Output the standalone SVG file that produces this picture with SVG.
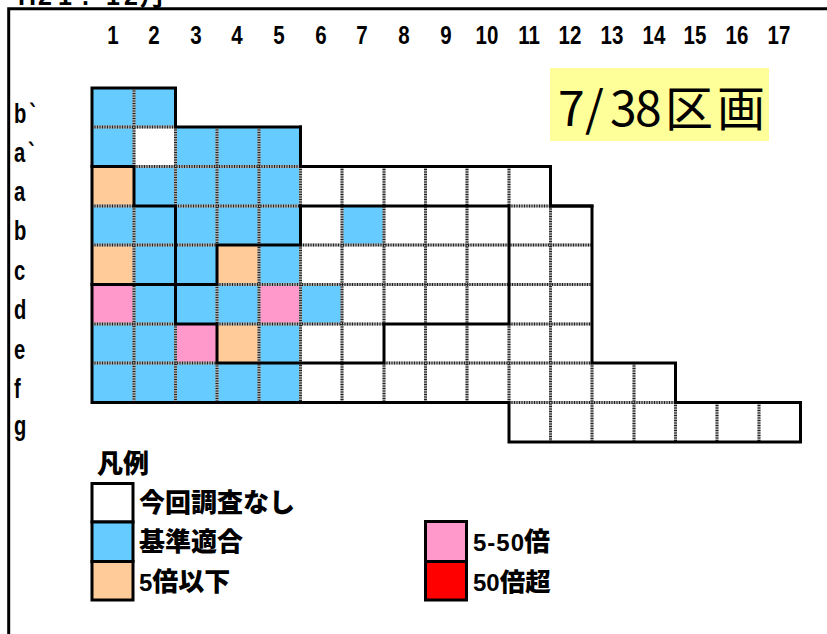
<svg xmlns="http://www.w3.org/2000/svg" xmlns:xlink="http://www.w3.org/1999/xlink" width="827" height="634" viewBox="0 0 827 634">
<style>
text{font-family:"Liberation Sans","Noto Sans CJK JP",sans-serif;font-weight:bold;fill:#000}
.h{font-size:25px;text-anchor:middle}
.l{font-size:28px}
.j{font-family:"Noto Sans CJK JP",sans-serif;font-weight:900;font-size:26px}
.d{font-family:"Liberation Sans",sans-serif;font-weight:bold;font-size:24px}
.b{fill:#66ccff}.o{fill:#ffcc99}.p{fill:#ff99cc}.r{fill:#ff0000}.w{fill:#fff}
.g{stroke:#a8a8a8;stroke-width:3;fill:none}
.g2{stroke:#222;stroke-width:3;stroke-dasharray:1 1.500;fill:none}
.k{stroke:#000;stroke-width:3;fill:none;stroke-linecap:square}
.s{stroke:#000;stroke-width:3}
</style>
<defs>
<path id="grid" d="M92 127H175.500M134 166.500H300.500M92 206H134M175.500 206H300.500M92 245H217M300.500 245H592M217 284.500H592M92 324H175.500M217 324H384M509 324H592M92 363H217M384 363H592M509 402.500H675.500M509 206H550.500M134 88V166.500M175.500 127V206M217 127V245M259 127V402.500M134 206V402.500M175.500 324V402.500M217 284.500V324M217 363V402.500M300.500 166.500V206M300.500 245V402.500M342 166.500V402.500M384 166.500V324M384 363V402.500M425.500 166.500V402.500M467 166.500V402.500M509 166.500V206M509 324V402.500M550.500 206V442M592 363V442M634 363V442M675.500 402.500V442M717 402.500V442M759 402.500V442"/>
</defs>
<rect width="827" height="634" fill="#fff"/>
<g id="title"><text x="18 38 58 82 106 124 140" y="5" style="font-size:25px">H21.12月</text></g>
<path id="frame" d="M827 8.700H8.700V634" fill="none" stroke="#000" stroke-width="3"/>
<g id="col-labels">
<text class="h" transform="translate(113 43.500) scale(.82 1)">1</text>
<text class="h" transform="translate(154 43.500) scale(.82 1)">2</text>
<text class="h" transform="translate(196 43.500) scale(.82 1)">3</text>
<text class="h" transform="translate(237 43.500) scale(.82 1)">4</text>
<text class="h" transform="translate(279 43.500) scale(.82 1)">5</text>
<text class="h" transform="translate(321 43.500) scale(.82 1)">6</text>
<text class="h" transform="translate(362 43.500) scale(.82 1)">7</text>
<text class="h" transform="translate(404 43.500) scale(.82 1)">8</text>
<text class="h" transform="translate(446 43.500) scale(.82 1)">9</text>
<text class="h" transform="translate(487 43.500) scale(.82 1)">10</text>
<text class="h" transform="translate(529 43.500) scale(.82 1)">11</text>
<text class="h" transform="translate(570 43.500) scale(.82 1)">12</text>
<text class="h" transform="translate(612 43.500) scale(.82 1)">13</text>
<text class="h" transform="translate(654 43.500) scale(.82 1)">14</text>
<text class="h" transform="translate(695 43.500) scale(.82 1)">15</text>
<text class="h" transform="translate(737 43.500) scale(.82 1)">16</text>
<text class="h" transform="translate(779 43.500) scale(.82 1)">17</text>
</g>
<g id="row-labels">
<text class="l" transform="translate(14 123) scale(.72 1)">b<tspan dx="4">`</tspan></text>
<text class="l" transform="translate(14 161.500) scale(.72 1)">a<tspan dx="4">`</tspan></text>
<text class="l" transform="translate(14 201) scale(.72 1)">a</text>
<text class="l" transform="translate(14 240) scale(.72 1)">b</text>
<text class="l" transform="translate(14 280) scale(.72 1)">c</text>
<text class="l" transform="translate(14 319) scale(.72 1)">d</text>
<text class="l" transform="translate(14 358.500) scale(.72 1)">e</text>
<text class="l" transform="translate(14 398) scale(.72 1)">f</text>
<text class="l" transform="translate(14 435) scale(.72 1)">g</text>
</g>
<g id="cells">
<rect class="b" x="92" y="88" width="84" height="39"/>
<rect class="b" x="92" y="127" width="42" height="39.500"/>
<rect class="b" x="175.500" y="127" width="125" height="79"/>
<rect class="o" x="92" y="166.500" width="42" height="39.500"/>
<rect class="b" x="134" y="166.500" width="42" height="39.500"/>
<rect class="b" x="92" y="206" width="208.500" height="196.500"/>
<rect class="b" x="342" y="206" width="42" height="39"/>
<rect class="o" x="92" y="245" width="42" height="39.500"/>
<rect class="o" x="217" y="245" width="42" height="39.500"/>
<rect class="p" x="92" y="284.500" width="42" height="39.500"/>
<rect class="p" x="259" y="284.500" width="41.500" height="39.500"/>
<rect class="b" x="300.500" y="284.500" width="41.500" height="39.500"/>
<rect class="p" x="175.500" y="324" width="41.500" height="39"/>
<rect class="o" x="217" y="324" width="42" height="39"/>
</g>
<g id="connectors">
<use href="#grid" class="g"/>
<use href="#grid" class="g2"/>
<path class="k" d="M92 88H175.500V127H300.500V166.500H550.500V206H592V363H675.500V402.500H800.500V442H509V402.500H92V88"/>
<path class="k" d="M92 166.500H134V206H175.500V324H217V363H384V324H509V206H300.500M550.500 206H592M92 284.500H217V245H300.500M300.500 127V166.500M300.500 206V245"/>
</g>
<g id="badge">
<rect x="550" y="68" width="219" height="73" fill="#ffff99"/>
<text x="558 585 610 635 665 717" y="126" style="font-family:'Noto Sans CJK JP',sans-serif;font-weight:400;font-size:48px">7/38区画</text>
</g>
<g id="legend">
<text class="j" x="97" y="473">凡例</text>
<rect class="w s" x="92" y="483.500" width="41" height="38.500"/>
<rect class="b s" x="92" y="522" width="41" height="39.500"/>
<rect class="o s" x="92" y="561.500" width="41" height="38.500"/>
<rect class="p s" x="425.500" y="521.500" width="41" height="40"/>
<rect class="r s" x="425.500" y="561.500" width="41" height="38.500"/>
<text class="j" x="139" y="512">今回調査なし</text>
<text class="j" x="139" y="551">基準適合</text>
<text class="j" x="139" y="591"><tspan class="d">5</tspan>倍以下</text>
<text class="j" x="473" y="551"><tspan class="d" textLength="51" lengthAdjust="spacing">5-50</tspan><tspan x="524">倍</tspan></text>
<text class="j" x="473" y="591" style="font-size:25.500px"><tspan class="d">50</tspan>倍超</text>
</g>
</svg>
